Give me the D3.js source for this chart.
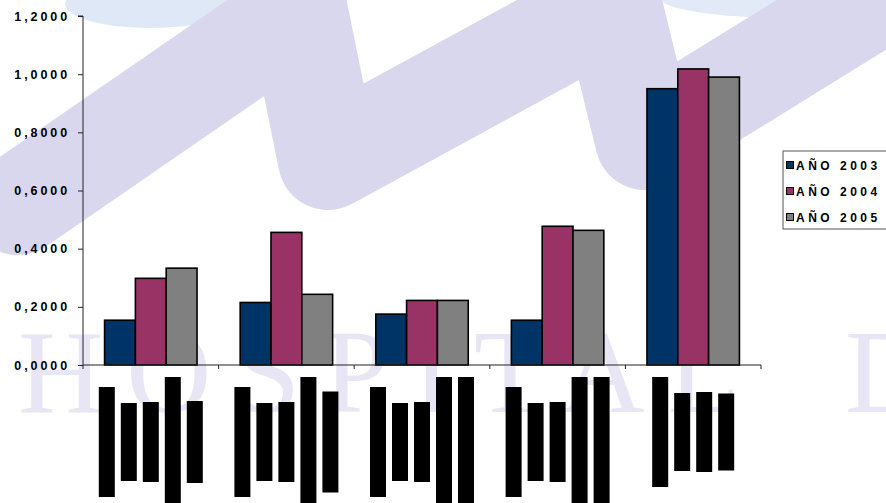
<!DOCTYPE html>
<html>
<head>
<meta charset="utf-8">
<script src="https://cdn.jsdelivr.net/npm/d3@7/dist/d3.min.js"></script>
<style>
  html, body { margin: 0; padding: 0; background: #ffffff; }
  svg { display: block; }
</style>
</head>
<body>
<svg id="chart" width="886" height="503"></svg>
<script>
// ---------- DATA ----------
const categories = ["C1", "C2", "C3", "C4", "C5"];
const seriesNames = ["AÑO 2003", "AÑO 2004", "AÑO 2005"];
const values2003 = [0.154, 0.215, 0.175, 0.154, 0.950];
const values2004 = [0.298, 0.456, 0.222, 0.477, 1.018];
const values2005 = [0.333, 0.243, 0.222, 0.463, 0.990];
const yTicks = [0, 0.2, 0.4, 0.6, 0.8, 1.0, 1.2];
// category labels are redacted in the source: relative length of each label line
const labelLines = [
  [110, 78, 80, 130, 82],
  [110, 78, 80, 130, 101],
  [110, 78, 80, 130, 130],
  [110, 78, 80, 130, 130],
  [110, 78, 80, 77]
];

const seriesColors = ["#003366", "#993366", "#808080"];
const seriesValues = [values2003, values2004, values2005];

// ---------- SETUP ----------
const W = 886, H = 503;
const svg = d3.select("#chart");
const margin = { left: 83, right: 125, top: 16, bottom: 138 };
const plotBottom = H - margin.bottom; // 365

// ---------- WATERMARK BACKGROUND ----------
const bg = svg.append("g").attr("class", "watermark");
bg.append("ellipse").attr("cx", 150).attr("cy", 4).attr("rx", 85).attr("ry", 24).attr("fill", "#dfe8f6");
bg.append("ellipse").attr("cx", 790).attr("cy", -2).attr("rx", 130).attr("ry", 20).attr("fill", "#e2eaf7");
const wave = d3.line().curve(d3.curveLinear);
bg.append("path")
  .attr("d", wave([[18, 205], [298, 12], [328, 160], [612, 5], [645, 140], [920, -30]]))
  .attr("fill", "none")
  .attr("stroke", "#d9d7ee")
  .attr("stroke-width", 100)
  .attr("stroke-linejoin", "round")
  .attr("stroke-linecap", "round");
const wmFont = "Liberation Serif, Times New Roman, serif";
bg.append("text")
  .attr("x", 18).attr("y", 412)
  .attr("font-family", wmFont)
  .attr("font-size", 118)
  .attr("letter-spacing", 23)
  .attr("fill", "#e8e6f4")
  .text("HOSPITAL");
bg.append("text")
  .attr("x", 845).attr("y", 412)
  .attr("font-family", wmFont)
  .attr("font-size", 118)
  .attr("fill", "#e8e6f4")
  .text("D");

// ---------- SCALES ----------
const x0 = d3.scaleBand().domain(categories).range([margin.left, W - margin.right]).padding(0);
const gapRatio = 1.4;
const bw = x0.bandwidth();
const edge = bw * gapRatio / (3 + gapRatio) / 2;
const x1 = d3.scaleBand().domain(seriesNames).range([edge, bw - edge]).padding(0);
const y = d3.scaleLinear().domain([0, 1.2]).range([plotBottom, margin.top]);

// ---------- BARS ----------
const groups = svg.append("g").selectAll("g")
  .data(categories)
  .join("g")
  .attr("transform", d => `translate(${x0(d)},0)`);

groups.selectAll("rect")
  .data((d, i) => seriesNames.map((s, j) => ({ s, j, v: seriesValues[j][i] })))
  .join("rect")
  .attr("x", d => x1(d.s))
  .attr("y", d => y(d.v))
  .attr("width", x1.bandwidth())
  .attr("height", d => y(0) - y(d.v))
  .attr("fill", d => seriesColors[d.j])
  .attr("stroke", "#000")
  .attr("stroke-width", 1.6);

// ---------- AXES ----------
const fmt = v => d3.format(".4f")(v).replace(".", ",");
const yAxis = svg.append("g")
  .attr("transform", `translate(${margin.left},0)`)
  .call(d3.axisLeft(y).tickValues(yTicks).tickFormat(fmt).tickSize(5).tickPadding(8));
yAxis.select(".domain").attr("stroke", "#222").attr("d", `M-5,${y(1.2)}H0V${y(0)}`);
yAxis.selectAll(".tick line").attr("stroke", "#222");
yAxis.selectAll("text")
  .attr("font-family", "Liberation Sans, Arial, sans-serif")
  .attr("font-weight", "bold")
  .attr("font-size", 12.5)
  .attr("letter-spacing", 2.9)
  .attr("fill", "#000");

const xAxis = svg.append("g")
  .attr("transform", `translate(0,${plotBottom})`);
xAxis.append("line")
  .attr("x1", x0.range()[0]).attr("x2", x0.range()[1])
  .attr("stroke", "#222").attr("stroke-width", 1);
const boundaries = categories.map(c => x0(c)).concat([x0.range()[1]]);
xAxis.selectAll("line.tk")
  .data(boundaries)
  .join("line")
  .attr("class", "tk")
  .attr("x1", d => d).attr("x2", d => d)
  .attr("y1", 0).attr("y2", 4)
  .attr("stroke", "#222");

// ---------- REDACTED CATEGORY LABELS ----------
const lineStep = 22, lineW = 16, labelTop = plotBottom + 12;
const labelG = svg.append("g");
categories.forEach((c, i) => {
  const lines = labelLines[i];
  const maxL = d3.max(lines);
  const cx = x0(c) + bw / 2;
  lines.forEach((L, k) => {
    labelG.append("rect")
      .attr("x", cx + (k - (lines.length - 1) / 2) * lineStep - lineW / 2)
      .attr("y", labelTop + (maxL - L) / 2)
      .attr("width", lineW)
      .attr("height", L)
      .attr("fill", "#000");
  });
});

// ---------- LEGEND ----------
const lg = svg.append("g").attr("transform", "translate(783,151)");
lg.append("rect")
  .attr("x", 0).attr("y", 0).attr("width", 110).attr("height", 78)
  .attr("fill", "#fff").attr("stroke", "#555").attr("stroke-width", 1);
seriesNames.forEach((s, i) => {
  const cy = 14 + i * 26;
  lg.append("rect")
    .attr("x", 3.5).attr("y", cy - 3.5).attr("width", 7).attr("height", 7)
    .attr("fill", seriesColors[i]).attr("stroke", "#000").attr("stroke-width", 1);
  lg.append("text")
    .attr("x", 13).attr("y", cy + 4.5)
    .attr("font-family", "Liberation Sans, Arial, sans-serif")
    .attr("font-weight", "bold")
    .attr("font-size", 12)
    .attr("letter-spacing", 3.5)
    .attr("fill", "#000")
    .text(s);
});
</script>
</body>
</html>
